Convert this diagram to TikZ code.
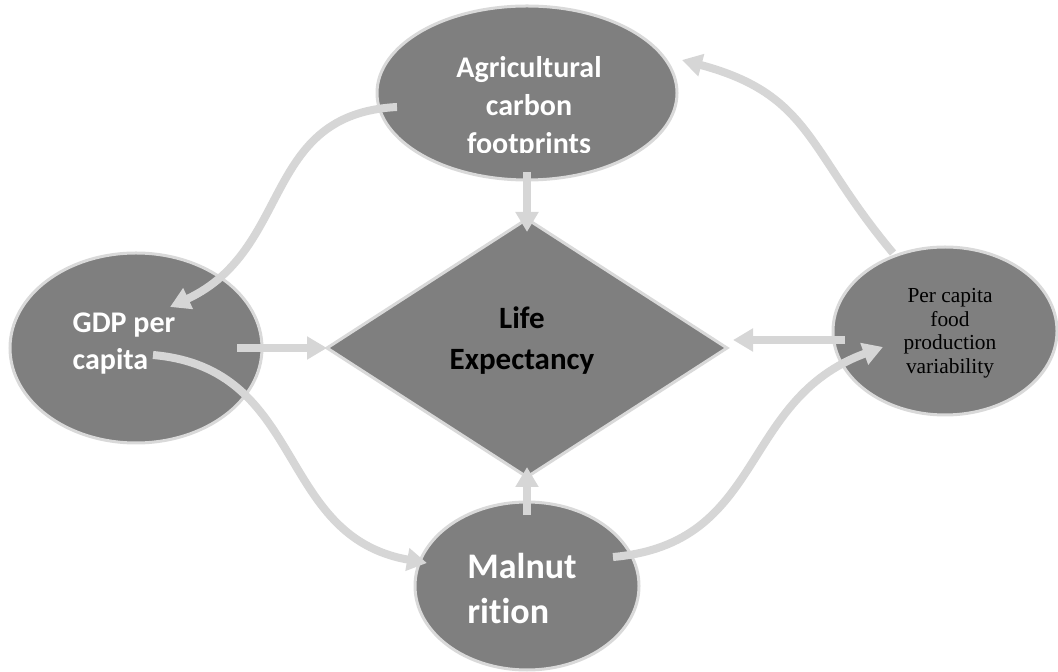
\documentclass[tikz,border=0pt]{standalone}
\usepackage{fontspec}
\setmainfont{Liberation Serif}
\newfontfamily\carlito[Ligatures=CommonOff]{Carlito}
\usepackage{tikz}
\usetikzlibrary{arrows.meta,shapes.geometric,positioning,calc}
\definecolor{bubblegray}{HTML}{7F7F7F}
\definecolor{rimgray}{HTML}{D9D9D9}
\definecolor{flowgray}{HTML}{D6D6D6}
\tikzset{
	bubble/.style={ellipse,fill=bubblegray,draw=rimgray,line width=1.5pt,inner sep=0pt,outer sep=0pt},
	flow/.style={draw=flowgray,line width=4pt,->},
	wtext/.style={text=white,inner sep=0pt}
}

\begin{document}
\begin{tikzpicture}[x=0.5pt,y=-0.5pt,>={Triangle[width=11pt,length=10pt]}]
	\useasboundingbox (0,0) rectangle (1058,672);
	
	\node[diamond,fill=bubblegray,draw=rimgray,line width=1.5pt,inner sep=0pt,outer sep=0pt,
	minimum width=200pt,minimum height=129pt] (life) at (527,348) {};
	\node[bubble,minimum width=150pt,minimum height=87pt] [above=19.5pt of life] (agri) {};
	\node[bubble,minimum width=126pt,minimum height=95pt] [left=32.5pt of life] (gdp) {};
	\node[bubble,minimum width=112pt,minimum height=84pt] [below=12.5pt of life] (maln) {};
	\node[bubble,minimum width=112pt,minimum height=84pt] [right=53pt of life, yshift=8.5pt] (food) {};
	
	% labels
	\begin{scope}
		\clip ([shift={(-150,-90)}]agri.center) rectangle ([shift={(150,60)}]agri.center);
		\node[wtext,align=center,font=\carlito\bfseries\fontsize{15}{19}\selectfont] (agritxt)
		at ([shift={(2,14)}]agri.center) {Agricultural\\carbon\\footprints};
	\end{scope}
	\node[wtext,align=left,font=\carlito\bfseries\fontsize{15}{18.5}\selectfont] (gdptxt)
	at ([shift={(-12,-4)}]gdp.center) {GDP per\\capita};
	\node[inner sep=0pt,align=center,font=\carlito\bfseries\fontsize{15.5}{20.5}\selectfont] (lifetxt)
	at ([shift={(-5,-7)}]life.center) {Life\\Expectancy};
	\node[inner sep=0pt,align=center,font=\fontsize{10.7}{11.75}\selectfont] (foodtxt)
	at ([shift={(5,2)}]food.center) {Per capita\\food\\production\\variability};
	\node[wtext,align=left,font=\carlito\bfseries\fontsize{18}{22.5}\selectfont] (malntxt)
	at ([shift={(-5,3)}]maln.center) {Malnut\\rition};
	
	% links
	\draw[flow] ([shift={(-130,14)}]agri.center) to[out=183, in=25, looseness=1.15] ([shift={(34,-41)}]gdp.center);
	\draw[flow] ([yshift=4pt]agri.south) -- ([yshift=-6.5pt]life.north);
	\draw[flow] ([shift={(101,0)}]gdp.center) -- (life.west);
	\draw[flow] ([shift={(17,7)}]gdp.center) to[out=-5, in=170, looseness=1.15] ([shift={(-100,-23)}]maln.center);
	\draw[flow] ([yshift=-6.5pt]maln.north) -- ([yshift=5pt]life.south);
	\draw[flow] ([shift={(86,-29)}]maln.center) to[out=5, in=200, looseness=1.15] ([shift={(-62,16)}]food.center);
	\draw[flow] ([shift={(-100,9)}]food.center) -- ([shift={(6,-8)}]life.east);
	\draw[flow] ([shift={(-52,-78)}]food.center) to[out=130, in=-15, looseness=1.2] ([shift={(155,-33)}]agri.center);
\end{tikzpicture}
\end{document}
